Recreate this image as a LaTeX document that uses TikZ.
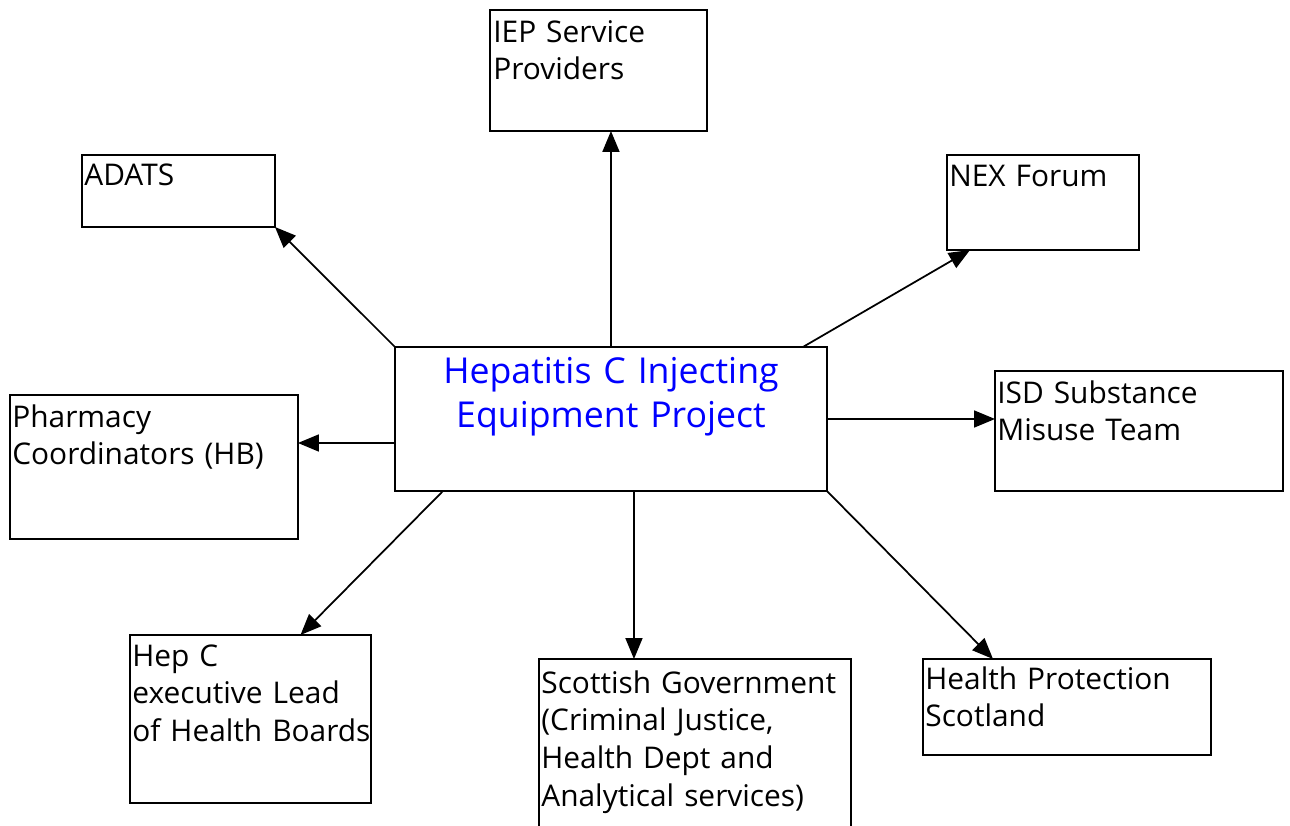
\documentclass[tikz,border=0pt]{standalone}
\usepackage{fontspec}
\setmainfont{Open Sans}
\usetikzlibrary{arrows.meta,positioning}

\begin{document}
\begin{tikzpicture}[x=0.02cm,y=-0.02cm,
  orgbox/.style={draw,line width=1pt,rectangle,inner sep=0pt,outer sep=0pt,anchor=north west},
  orglabel/.style={anchor=base west,inner sep=0pt,text width=6.2cm,align=left,font=\fontsize{17}{21.6}\selectfont},
  hublabel/.style={anchor=base,inner sep=0pt,text width=8cm,align=center,text=blue,font=\fontsize{20.3}{25.6}\selectfont},
  link/.style={line width=1pt,-{Triangle[length=0.42cm,width=0.34cm]}}]
\clip (0,0) rectangle (1290,825);

% centre box
\node[orgbox,minimum width=8.64cm,minimum height=2.88cm] (hub) at (395,347) {};
\node[hublabel] (hub_txt) at ([shift={+(0,36)}]hub.north) {Hepatitis C Injecting\\Equipment Project};

% top row
\node[orgbox,minimum width=4.34cm,minimum height=2.42cm] (iep) at (490,10) {};
\node[orglabel] (iep_txt) at ([shift={+(3,32)}]iep.north west) {IEP Service\\Providers};
\node[orgbox,minimum width=3.86cm,minimum height=1.44cm] (adats) at (82,155) {};
\node[orglabel] (adats_txt) at ([shift={+(2,30)}]adats.north west) {ADATS};
\node[orgbox,minimum width=3.84cm,minimum height=1.90cm] (nex) at (947,155) {};
\node[orglabel] (nex_txt) at ([shift={+(2,31)}]nex.north west) {NEX Forum};

% middle row
\node[orgbox,minimum width=5.76cm,minimum height=2.88cm] (pharm) at (10,395) {};
\node[orglabel] (pharm_txt) at ([shift={+(2,32)}]pharm.north west) {Pharmacy\\Coordinators (HB)};
\node[orgbox,minimum width=5.76cm,minimum height=2.40cm] (isd) at (995,371) {};
\node[orglabel] (isd_txt) at ([shift={+(2,32)}]isd.north west) {ISD Substance\\Misuse Team};

% bottom row
\node[orgbox,minimum width=4.82cm,minimum height=3.36cm] (hepc) at (130,635) {};
\node[orglabel] (hepc_txt) at ([shift={+(2,31)}]hepc.north west) {Hep C\\executive Lead\\of Health Boards};
\node[orgbox,minimum width=6.24cm,minimum height=3.60cm] (scot) at (539,659) {};
\node[orglabel] (scot_txt) at ([shift={+(2,34)}]scot.north west) {Scottish Government\\(Criminal Justice,\\Health Dept and\\Analytical services)};
\node[orgbox,minimum width=5.76cm,minimum height=1.92cm] (hps) at (923,659) {};
\node[orglabel] (hps_txt) at ([shift={+(2,30)}]hps.north west) {Health Protection\\Scotland};

% links
\draw[link] (hub.north) -- (hub.north |- iep.south);
\draw[link] (hub.north west) -- (adats.south east);
\draw[link] ([shift={(-24,0)}]hub.north east) -- ([shift={(23,0)}]nex.south west);
\draw[link] (hub.east) -- (hub.east -| isd.west);
\draw[link] ([shift={(0,24)}]hub.west) -- ([shift={(0,-24)}]pharm.east);
\draw[link] ([shift={(48,0)}]hub.south west) -- ([shift={(50,0)}]hepc.north);
\draw[link] ([shift={(23,0)}]hub.south) -- ([shift={(-61,0)}]scot.north);
\draw[link] (hub.south east) -- ([shift={(70,0)}]hps.north west);
\end{tikzpicture}
\end{document}
